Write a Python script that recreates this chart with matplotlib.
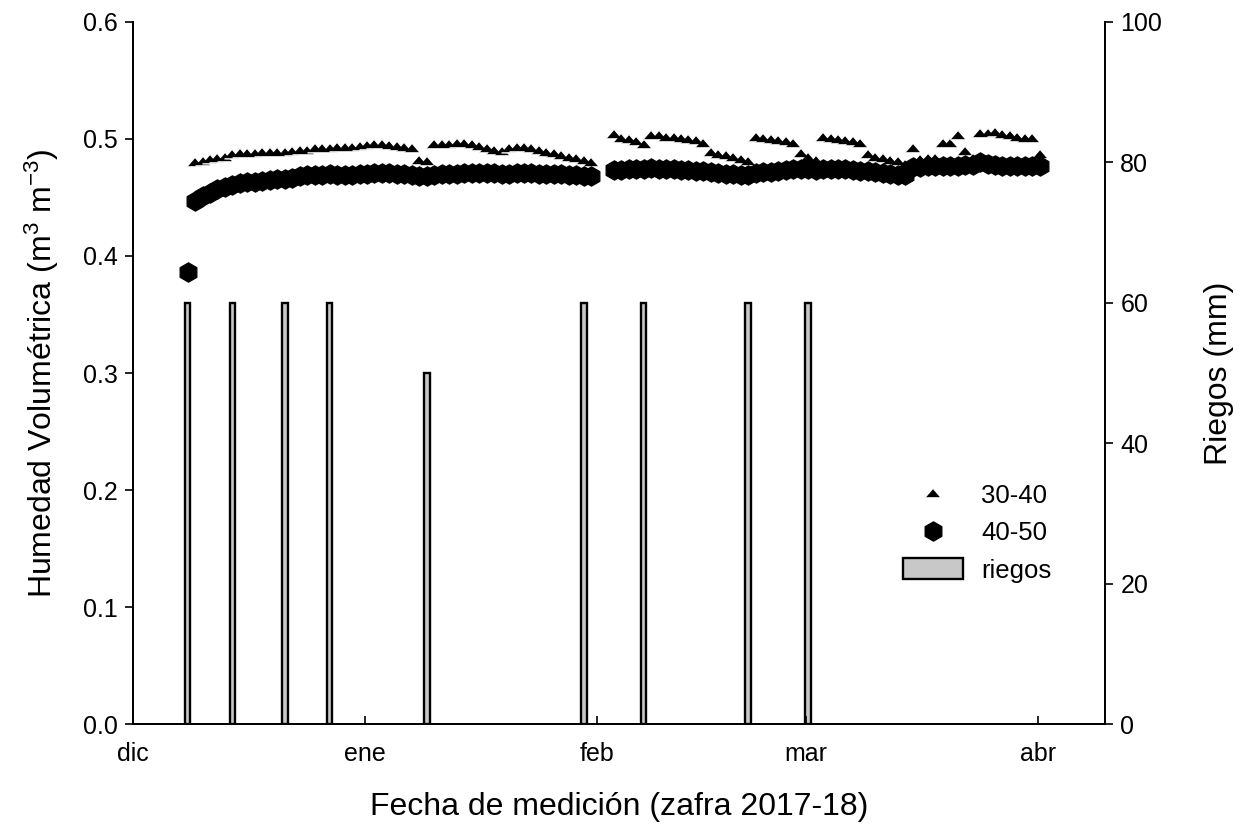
import matplotlib
matplotlib.use("Agg")
import matplotlib.pyplot as plt
import pandas as pd

plt.rcParams['font.family'] = ['Liberation Sans', 'DejaVu Sans']
plt.rcParams['mathtext.default'] = 'regular'

# ---------------- data ----------------
month_ticks = ['2017-12-01', '2018-01-01', '2018-02-01', '2018-03-01', '2018-04-01']
month_labels = ['dic', 'ene', 'feb', 'mar', 'abr']
x_limits = ['2017-12-01', '2018-04-10']

# 40-50 cm layer (daily readings)
hex_seg1_start = '2017-12-08 07:00'
hex_seg1 = [0.386, 0.447, 0.451, 0.454, 0.457, 0.459, 0.461, 0.462, 0.463, 0.4635,
            0.464, 0.465, 0.4655, 0.466, 0.467, 0.468, 0.469, 0.4695, 0.4695, 0.470,
            0.469, 0.469, 0.469, 0.470, 0.470, 0.471, 0.471, 0.471, 0.470, 0.470,
            0.469, 0.468, 0.468, 0.469, 0.470, 0.470, 0.470, 0.471, 0.471, 0.471,
            0.471, 0.471, 0.470, 0.470, 0.471, 0.471, 0.471, 0.470, 0.470, 0.470,
            0.470, 0.469, 0.469, 0.468, 0.468]
hex_seg2_start = '2018-02-03 07:00'
hex_seg2 = [0.4735, 0.4735, 0.474, 0.474, 0.474, 0.475, 0.474, 0.474, 0.474, 0.4735,
            0.4735, 0.473, 0.473, 0.472, 0.471, 0.470, 0.470, 0.469, 0.469,
            0.471, 0.472, 0.472, 0.473, 0.4735, 0.474, 0.474, 0.474, 0.4735, 0.474,
            0.474, 0.474, 0.474, 0.4735, 0.473, 0.473, 0.472, 0.471, 0.470, 0.469,
            0.4695, 0.476, 0.476, 0.4765, 0.4765, 0.477, 0.477, 0.477, 0.4775, 0.478,
            0.480, 0.479, 0.478, 0.477, 0.477, 0.4765, 0.4765, 0.4765, 0.477]

# 30-40 cm layer (daily readings)
tri_seg1_start = '2017-12-09 07:00'
tri_seg1 = [0.480, 0.481, 0.483, 0.484, 0.485,
            0.487, 0.488, 0.488, 0.488, 0.489, 0.489, 0.489, 0.489,
            0.490, 0.491, 0.491, 0.492, 0.492, 0.492, 0.493, 0.493, 0.493, 0.494,
            0.495, 0.496, 0.496, 0.495, 0.494, 0.493, 0.492, 0.482, 0.481, 0.496,
            0.496, 0.496, 0.497,
            0.497, 0.496, 0.494, 0.492, 0.491, 0.490, 0.492, 0.493, 0.493, 0.492,
            0.491, 0.489, 0.488, 0.486, 0.485, 0.484, 0.482, 0.480]
tri_seg2_start = '2018-02-03 07:00'
tri_seg2 = [0.504, 0.501, 0.500, 0.498, 0.496, 0.503, 0.503, 0.502, 0.502, 0.501,
            0.500, 0.499, 0.497, 0.489, 0.487, 0.486, 0.485, 0.483, 0.481,
            0.502, 0.501, 0.500, 0.499, 0.498, 0.497, 0.488, 0.485, 0.482, 0.502,
            0.501, 0.500, 0.499, 0.498, 0.497, 0.487, 0.485, 0.484, 0.482, 0.481,
            0.479, 0.492, 0.483, 0.484, 0.484, 0.497, 0.497, 0.503, 0.490, 0.484,
            0.505, 0.505, 0.506, 0.504, 0.503, 0.502, 0.501, 0.501, 0.487]

# irrigation events (mm)
riego_dates = ['2017-12-08 07:00', '2017-12-14 07:00', '2017-12-21 07:00',
               '2017-12-27 07:00', '2018-01-09 07:00', '2018-01-30 07:00',
               '2018-02-07 07:00', '2018-02-21 07:00', '2018-03-01 07:00']
riego_mm = [60, 60, 60, 60, 50, 60, 60, 60, 60]

left_ticks = [0.0, 0.1, 0.2, 0.3, 0.4, 0.5, 0.6]
right_ticks = [0, 20, 40, 60, 80, 100]


def daily(start, vals):
    return pd.date_range(start, periods=len(vals), freq='D')


# ---------------- figure ----------------
fig = plt.figure(figsize=(12.41, 8.30), dpi=100)
ax = fig.add_axes([0.1072, 0.1277, 0.7832, 0.8458])
ax2 = ax.twinx()

bars = ax2.bar(pd.to_datetime(riego_dates), riego_mm, width=0.75,
               color='#c8c8c8', edgecolor='black', linewidth=1.7)
ax2.set_ylim(0, 100)
ax.set_zorder(ax2.get_zorder() + 1)
ax.patch.set_visible(False)

tri_marker = [(-1, -0.55), (1, -0.55), (0, 0.6)]
tri_kw = dict(linestyle='none', marker=tri_marker, ms=11.5, mfc='black',
              mec='white', mew=1.0, zorder=2)
hex_kw = dict(linestyle='none', marker='h', ms=14, mfc='black',
              mec='black', mew=0.8, zorder=3)

h_tri, = ax.plot(daily(tri_seg1_start, tri_seg1), tri_seg1, **tri_kw)
ax.plot(daily(tri_seg2_start, tri_seg2), tri_seg2, **tri_kw)
h_hex, = ax.plot(daily(hex_seg1_start, hex_seg1), hex_seg1, **hex_kw)
ax.plot(daily(hex_seg2_start, hex_seg2), hex_seg2, **hex_kw)

ax.set_xlim(pd.to_datetime(x_limits[0]), pd.to_datetime(x_limits[1]))
ax.set_ylim(0, 0.6)
ax.set_yticks(left_ticks)
ax.set_yticklabels([f'{v:.1f}' for v in left_ticks])
ax2.set_yticks(right_ticks)
ax.set_xticks(pd.to_datetime(month_ticks))
ax.set_xticklabels(month_labels)

for a in (ax, ax2):
    a.spines['top'].set_visible(False)
    for s in a.spines.values():
        s.set_linewidth(1.3)

ax.tick_params(axis='x', direction='in', length=6, width=1.2, pad=13, labelsize=18)
ax.tick_params(axis='y', direction='out', length=6, width=1.2, pad=5, labelsize=18)
ax2.tick_params(axis='y', direction='out', length=6, width=1.2, pad=5, labelsize=18)

ax.set_ylabel('Humedad Volumétrica (m$^3$ m$^{-3}$)', fontsize=23, labelpad=16)
ax2.set_ylabel('Riegos (mm)', fontsize=23, labelpad=30)
ax.set_xlabel('Fecha de medición (zafra 2017-18)', fontsize=23, labelpad=19)

ax.legend([h_tri, h_hex, bars], ['30-40', '40-50', 'riegos'],
          loc='upper left', bbox_to_anchor=(0.7785, 0.361), frameon=False,
          fontsize=18.5, handlelength=2.35, handleheight=0.85, handletextpad=0.72,
          labelspacing=0.52, borderpad=0, numpoints=1)

fig.savefig('out.png', dpi=100)
